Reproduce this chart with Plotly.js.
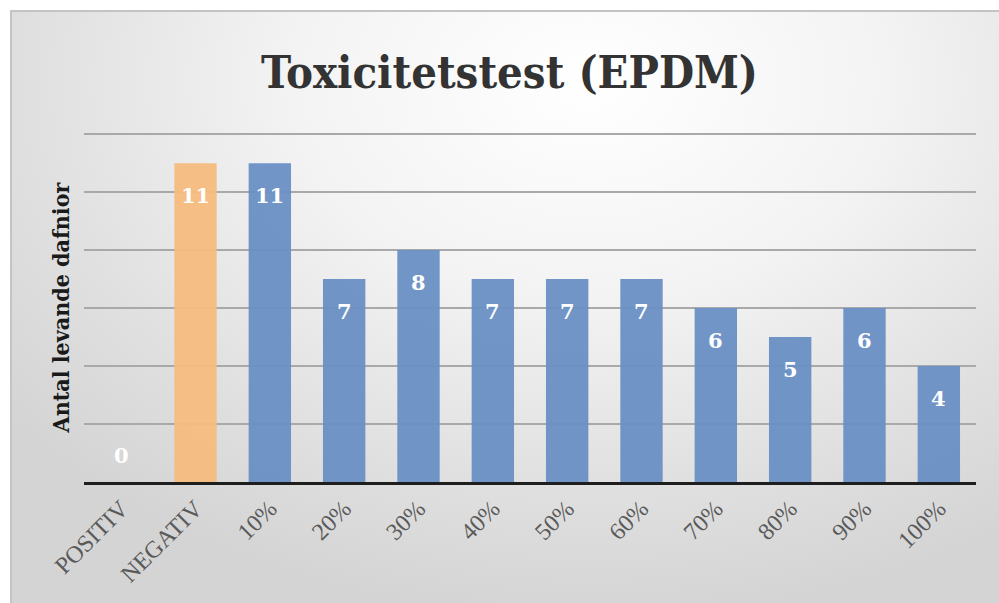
<!DOCTYPE html>
<html>
<head>
<meta charset="utf-8">
<script src="https://cdn.plot.ly/plotly-3.0.1.min.js"></script>
<style>
  html, body { margin: 0; padding: 0; background: #ffffff; overflow: hidden; }
  #frame {
    position: absolute; left: 10px; top: 10px; width: 1000px; height: 600px;
    border: 2px solid #c4c4c4; box-sizing: border-box;
    background: radial-gradient(ellipse 75% 90% at 58% 12%, #ffffff 0%, #f3f3f3 40%, #e0e0e0 75%, #d4d4d4 100%);
  }
  #chart { position: absolute; left: 0; top: 0; width: 999px; height: 603px; }
</style>
</head>
<body>
<div id="frame"></div>
<div id="chart"></div>
<script>
const categories = ["POSITIV", "NEGATIV", "10%", "20%", "30%", "40%", "50%", "60%", "70%", "80%", "90%", "100%"];
const values = [0, 11, 11, 7, 8, 7, 7, 7, 6, 5, 6, 4];
const barColors = ["#6A8FC5", "#F6BC80", "#6A8FC5", "#6A8FC5", "#6A8FC5", "#6A8FC5", "#6A8FC5", "#6A8FC5", "#6A8FC5", "#6A8FC5", "#6A8FC5", "#6A8FC5"];
const titleText = "Toxicitetstest (EPDM)";
const yTitleText = "Antal levande dafnior";

const trace = {
  type: "bar",
  x: categories,
  y: values,
  marker: { color: barColors, opacity: 0.95, line: { width: 0 } },
  hoverinfo: "x+y"
};

const annotations = categories.map((c, i) => ({
  x: c, y: values[i], xref: "x", yref: "y",
  text: String(values[i]),
  showarrow: false,
  yanchor: "middle",
  yshift: values[i] === 0 ? 27 : -32,
  font: { family: "DejaVu Serif", size: 21, color: "#ffffff", weight: "bold" }
}));

const layout = {
  width: 999, height: 603, autosize: false,
  margin: { l: 84, r: 23, t: 133, b: 121 },
  paper_bgcolor: "rgba(0,0,0,0)",
  plot_bgcolor: "rgba(0,0,0,0)",
  title: {
    text: titleText,
    x: 0.51, xanchor: "center",
    y: 0.88, yanchor: "middle", yref: "container",
    font: { family: "DejaVu Serif Condensed", size: 45, color: "#333333", weight: "bold" }
  },
  bargap: 0.43,
  showlegend: false,
  xaxis: {
    type: "category",
    tickangle: -45,
    tickfont: { family: "Liberation Serif", size: 24, color: "#5a5a5a" },
    showline: true, linecolor: "#1e1e1e", linewidth: 3,
    ticks: "", showgrid: false
  },
  yaxis: {
    range: [0, 12.04], dtick: 2, tick0: 0,
    showticklabels: false, ticks: "",
    showgrid: true, gridcolor: "#a9a9a9", gridwidth: 1.5,
    zeroline: false,
    title: {
      text: yTitleText,
      standoff: 6,
      font: { family: "DejaVu Serif Condensed", size: 23, color: "#1a1a1a", weight: "bold" }
    }
  },
  annotations: annotations
};

Plotly.newPlot("chart", [trace], layout, { displayModeBar: false, staticPlot: true });
</script>
</body>
</html>
